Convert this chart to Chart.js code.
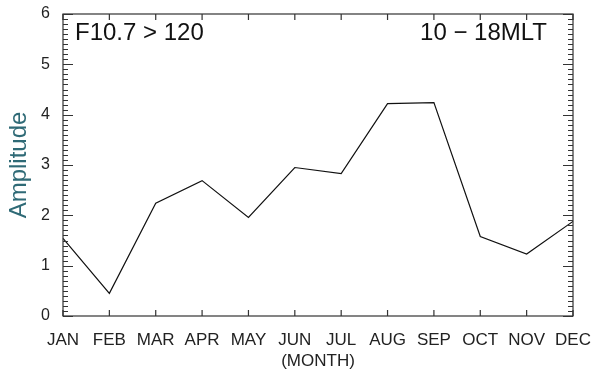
<!DOCTYPE html>
<html>
<head>
<meta charset="utf-8">
<script src="https://cdn.jsdelivr.net/npm/chart.js@4/dist/chart.umd.min.js"></script>
<style>
  html, body { margin: 0; padding: 0; background: #fff; }
  #wrap { width: 592px; height: 376px; }
</style>
</head>
<body>
<div id="wrap"><canvas id="amp" width="592" height="376"></canvas></div>
<script>
const months = ['JAN', 'FEB', 'MAR', 'APR', 'MAY', 'JUN', 'JUL', 'AUG', 'SEP', 'OCT', 'NOV', 'DEC'];
const amplitude = [1.54, 0.45, 2.24, 2.69, 1.96, 2.95, 2.83, 4.22, 4.24, 1.58, 1.23, 1.88];
const yTicks = [0, 1, 2, 3, 4, 5, 6];
const leftNote = 'F10.7 > 120';
const rightNote = '10 \u2212 18MLT';

// box + inward ticks like the IDL plot
const framePlugin = {
    id: 'frame',
    afterDraw(chart) {
        const ctx = chart.ctx;
        const a = chart.chartArea;
        const x = chart.scales.x;
        const y = chart.scales.y;
        ctx.save();
        ctx.strokeStyle = '#333';
        ctx.lineWidth = 1.2;
        ctx.strokeRect(a.left, a.top, a.right - a.left, a.bottom - a.top);
        ctx.beginPath();
        for (let i = 0; i < months.length; i++) {
            const px = x.getPixelForValue(i);
            ctx.moveTo(px, a.bottom); ctx.lineTo(px, a.bottom - 6);
            ctx.moveTo(px, a.top); ctx.lineTo(px, a.top + 6);
        }
        for (let v = 0; v <= 60; v++) {
            const py = Math.round(y.getPixelForValue(v / 10)) + 0.5;
            const len = v % 10 === 0 ? 10 : 5;
            ctx.moveTo(a.left, py); ctx.lineTo(a.left + len, py);
            ctx.moveTo(a.right, py); ctx.lineTo(a.right - len, py);
        }
        ctx.stroke();

        ctx.fillStyle = '#111';
        ctx.font = '24px "Liberation Sans", Arial, sans-serif';
        ctx.textBaseline = 'alphabetic';
        ctx.textAlign = 'left';
        ctx.fillText(leftNote, a.left + 12, 40);
        ctx.textAlign = 'right';
        ctx.fillText(rightNote, 547, 40);
        ctx.restore();
    }
};

const data = {
    labels: months,
    datasets: [{
        label: 'Amplitude',
        data: amplitude,
        borderColor: '#111',
        borderWidth: 1.2,
        pointRadius: 0,
        tension: 0,
        fill: false
    }]
};

const config = {
    type: 'line',
    data: data,
    options: {
        responsive: false,
        animation: false,
        layout: { padding: { top: 14, right: 19, left: 0, bottom: 0 } },
        plugins: { legend: { display: false }, tooltip: { enabled: false } },
        scales: {
            x: {
                offset: false,
                grid: { display: false, drawTicks: false },
                border: { display: false },
                ticks: {
                    color: '#222',
                    font: { family: '"Liberation Sans", Arial, sans-serif', size: 17 },
                    padding: 14,
                    maxRotation: 0,
                    autoSkip: false
                },
                title: {
                    display: true,
                    text: '(MONTH)',
                    color: '#222',
                    font: { family: '"Liberation Sans", Arial, sans-serif', size: 17 },
                    padding: { top: 0, bottom: 4 }
                },
                afterFit(scale) {
                    scale.height = 60;
                    scale.paddingLeft = 0;
                    scale.paddingRight = 0;
                }
            },
            y: {
                min: 0,
                max: 6,
                afterBuildTicks(scale) { scale.ticks = yTicks.map(v => ({ value: v })); },
                grid: { display: false, drawTicks: false },
                border: { display: false },
                ticks: {
                    color: '#222',
                    font: { family: '"Liberation Sans", Arial, sans-serif', size: 16 },
                    padding: 13
                },
                title: {
                    display: true,
                    text: 'Amplitude',
                    color: '#2f6a76',
                    font: { family: '"Liberation Sans", Arial, sans-serif', size: 24 },
                    padding: { top: 5, bottom: 0 }
                },
                afterFit(scale) {
                    scale.width = 63;
                    scale.paddingTop = 0;
                    scale.paddingBottom = 0;
                }
            }
        }
    },
    plugins: [framePlugin]
};

let ctx = document.getElementById('amp').getContext('2d');
new Chart(ctx, config);
</script>
</body>
</html>
